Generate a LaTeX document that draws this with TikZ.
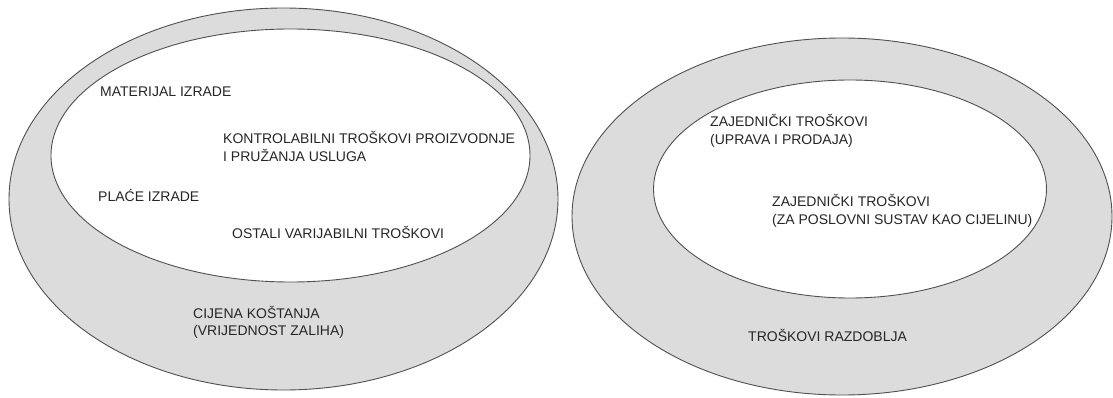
\documentclass[tikz,border=0pt]{standalone}
\usepackage{fontspec}
\setmainfont{Liberation Sans}
\definecolor{ringgray}{HTML}{DCDCDC}
\definecolor{edgegray}{HTML}{505050}
\begin{document}
\begin{tikzpicture}[x=1pt,y=-1pt,
  ring/.style={draw=edgegray,line width=0.9pt,fill=ringgray},
  hole/.style={draw=edgegray,line width=0.9pt,fill=white},
  lbl/.style={anchor=base west,inner sep=0pt,text=black!85,
    font=\fontsize{14pt}{17.5pt}\selectfont}]
\useasboundingbox (0,0) rectangle (1113,398);
\fill[white] (0,0) rectangle (1113,398);
% left ellipses
\draw[ring] (283.5,199) ellipse [x radius=274.5pt, y radius=191pt];
\draw[hole] (290.5,155.5) ellipse [x radius=239.5pt, y radius=126.5pt];
% right ellipses
\draw[ring] (842,216.5) ellipse [x radius=270pt, y radius=178.5pt];
\draw[hole] (850,189) ellipse [x radius=196.5pt, y radius=109pt];
% labels left
\node[lbl] (mat) at (100,97) {MATERIJAL IZRADE};
\node[lbl] (kon) at (223,144) {\begin{tabular}[t]{@{}l@{}}KONTROLABILNI TROŠKOVI PROIZVODNJE\\ I PRUŽANJA USLUGA\end{tabular}};
\node[lbl] (pla) at (98,201) {PLAĆE IZRADE};
\node[lbl] (ost) at (232,238) {OSTALI VARIJABILNI TROŠKOVI};
\node[lbl] (cij) at (193,318) {\begin{tabular}[t]{@{}l@{}}CIJENA KOŠTANJA\\ (VRIJEDNOST ZALIHA)\end{tabular}};
% labels right
\node[lbl] (zaj1) at (710,127) {\begin{tabular}[t]{@{}l@{}}ZAJEDNIČKI TROŠKOVI\\ (UPRAVA I PRODAJA)\end{tabular}};
\node[lbl] (zaj2) at (772,207) {\begin{tabular}[t]{@{}l@{}}ZAJEDNIČKI TROŠKOVI\\ (ZA POSLOVNI SUSTAV KAO CIJELINU)\end{tabular}};
\node[lbl] (raz) at (748,341) {TROŠKOVI RAZDOBLJA};
\end{tikzpicture}
\end{document}
